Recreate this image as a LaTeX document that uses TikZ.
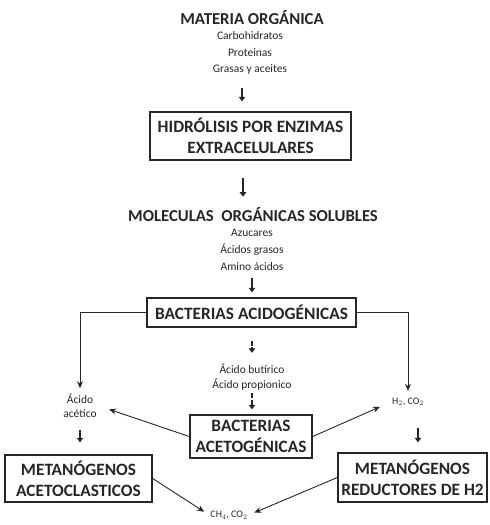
\documentclass[tikz,border=0pt]{standalone}
\usepackage{fontspec}
\setmainfont{Carlito}
\usetikzlibrary{arrows.meta}
\definecolor{ink}{HTML}{262626}
\tikzset{
  box/.style={draw=ink, line width=1.4pt, text=ink, inner sep=0pt, align=center, font=\fontsize{17.3}{21}\selectfont\bfseries},
  title/.style={text=ink, inner sep=1pt, align=center, font=\fontsize{16.7}{20}\selectfont\bfseries},
  small/.style={text=ink, inner sep=1pt, align=center, font=\fontsize{11.5}{16.7}\selectfont},
  smalltight/.style={text=ink, inner sep=1pt, align=center, font=\fontsize{11.5}{14.5}\selectfont},
  tiny/.style={text=ink, inner sep=1pt, align=center, font=\fontsize{10}{15}\selectfont},
  thick arrow/.style={draw=ink, line width=2.6pt, -{Triangle[length=4.5pt,width=6.5pt]}},
  thin arrow/.style={draw=ink, line width=0.9pt, -{Stealth[length=7pt,width=6pt]}},
}
\begin{document}
\begin{tikzpicture}[x=1pt,y=-1pt]
\useasboundingbox (0,0) rectangle (490,525);
% texts
\node[title] (mo) at (252,18) {MATERIA ORGÁNICA};
\node[small] (mol1) at (250,53) {Carbohidratos\\Proteinas\\Grasas y aceites};
\node[box, minimum width=201pt, minimum height=48pt] (hyd) at (250.5,136) {HIDRÓLISIS POR ENZIMAS\\EXTRACELULARES};
\node[title] (mos) at (253,215) {MOLECULAS\ \ ORGÁNICAS SOLUBLES};
\node[small] (mol2) at (252,250) {Azucares\\Ácidos grasos\\Amino ácidos};
\node[box, minimum width=209pt, minimum height=29pt] (acid) at (251.5,312.5) {BACTERIAS ACIDOGÉNICAS};
\node[smalltight] (but) at (252,377) {Ácido butírico\\Ácido propionico};
\node[box, minimum width=122pt, minimum height=43pt] (aceto) at (251,436.5) {BACTERIAS\\ACETOGÉNICAS};
\node[smalltight] (acet) at (80,405.5) {Ácido\\acético};
\node[tiny] (h2) at (408,402) {H$_2$,\ CO$_2$};
\node[box, minimum width=147pt, minimum height=47pt] (metl) at (78.5,478.5) {METANÓGENOS\\ACETOCLASTICOS};
\node[box, minimum width=149pt, minimum height=49pt] (metr) at (412.5,477.5) {METANÓGENOS\\REDUCTORES DE H2};
\node[tiny] (ch4) at (229,515) {CH$_4$, CO$_2$};
% short thick arrows
\draw[thick arrow, shorten <=12pt, shorten >=10pt] (mol1.south -| 242,0) -- (hyd.north -| 242,0);
\draw[thick arrow, shorten <=17pt, shorten >=10pt] (hyd.south -| 243,0) -- (mos.north -| 243,0);
\draw[thick arrow, shorten <=6pt, shorten >=5pt] (mol2.south) -- (acid.north -| mol2.south);
\draw[thick arrow, dash pattern=on 5pt off 1.5pt, shorten <=13pt, shorten >=10pt] (acid.south -| but.north) -- (but.north);
\draw[thick arrow, dash pattern=on 5pt off 1.5pt, shorten <=2pt, shorten >=5pt] (but.south) -- (aceto.north -| but.south);
\draw[thick arrow, shorten <=11pt, shorten >=12pt] (acet.south) -- (metl.north -| acet.south);
\draw[thick arrow, shorten <=21pt, shorten >=10pt] (h2.south -| 418,0) -- (metr.north -| 418,0);
% thin connectors
\draw[thin arrow, shorten >=4pt] (acid.west) -| (acet.north);
\draw[thin arrow, shorten >=6pt] (acid.east) -| (h2.north);
\draw[thin arrow, shorten >=12pt] (aceto.west) -- (acet.east);
\draw[thin arrow, shorten >=12pt] (aceto.east) -- (h2.west);
\draw[thin arrow, shorten >=6pt] (metl.east) -- (ch4.west);
\draw[thin arrow, shorten >=6pt] (metr.west) -- (ch4.east);
\end{tikzpicture}
\end{document}
